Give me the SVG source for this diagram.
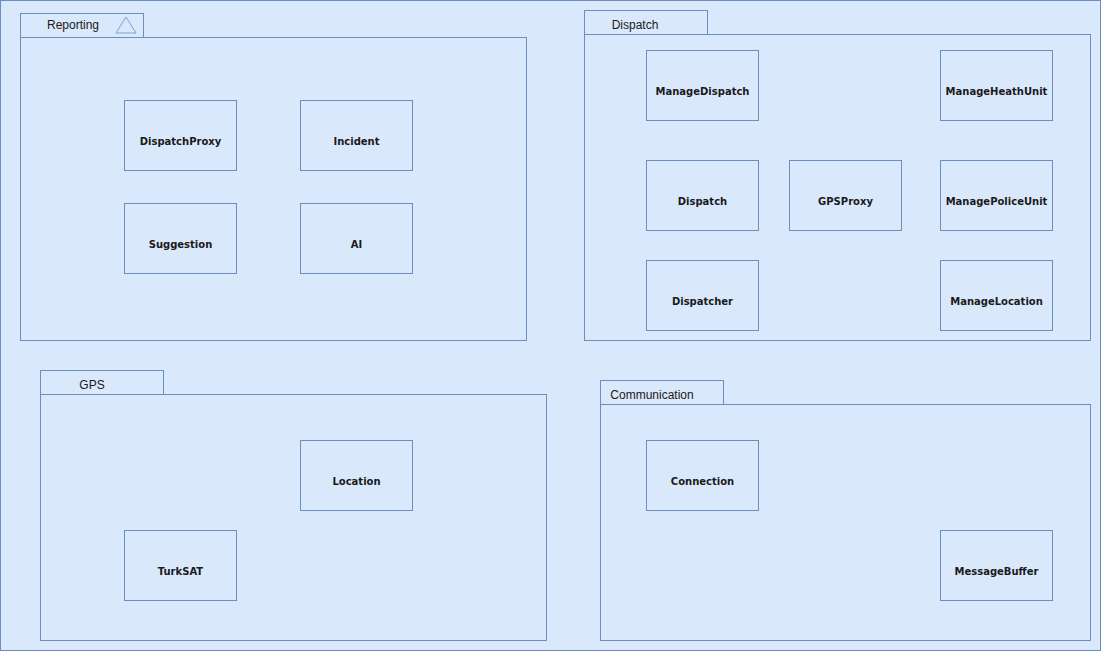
<svg xmlns="http://www.w3.org/2000/svg" width="1102" height="651" viewBox="0 0 1102 651">
<style>
.f{fill:#dae8fc;stroke:#6c8ebf;stroke-width:1}
.t{font-family:"Liberation Sans",Arial,sans-serif;font-size:12px;fill:#1a1a1a;text-anchor:middle}
.n{font-family:"DejaVu Sans",Verdana,sans-serif;font-size:10px;font-weight:bold;fill:#1a1a1a;text-anchor:middle}
</style>
<rect class="f" x="0.5" y="0.5" width="1100" height="650"/>
<g id="reporting">
<rect class="f" x="20.5" y="13.5" width="123" height="24"/>
<rect class="f" x="20.5" y="37.5" width="506" height="303"/>
<text class="t" x="73" y="29">Reporting</text>
<polygon points="116,33 126,17 136,33" fill="none" stroke="#7f9fd0" stroke-width="1"/>
</g>
<g id="dispatch-pkg">
<rect class="f" x="584.5" y="10.5" width="123" height="24"/>
<rect class="f" x="584.5" y="34.5" width="506" height="306"/>
<text class="t" x="635" y="29">Dispatch</text>
</g>
<g id="gps-pkg">
<rect class="f" x="40.5" y="370.5" width="123" height="24"/>
<rect class="f" x="40.5" y="394.5" width="506" height="246"/>
<text class="t" x="92" y="389">GPS</text>
</g>
<g id="communication-pkg">
<rect class="f" x="600.5" y="380.5" width="123" height="24"/>
<rect class="f" x="600.5" y="404.5" width="490" height="236"/>
<text class="t" x="652" y="399">Communication</text>
</g>
<g id="DispatchProxy"><rect class="f" x="124.5" y="100.5" width="112" height="70"/><text class="n" x="180.5" y="145">DispatchProxy</text></g>
<g id="Incident"><rect class="f" x="300.5" y="100.5" width="112" height="70"/><text class="n" x="356.5" y="145">Incident</text></g>
<g id="Suggestion"><rect class="f" x="124.5" y="203.5" width="112" height="70"/><text class="n" x="180.5" y="248">Suggestion</text></g>
<g id="AI"><rect class="f" x="300.5" y="203.5" width="112" height="70"/><text class="n" x="356.5" y="248">AI</text></g>
<g id="ManageDispatch"><rect class="f" x="646.5" y="50.5" width="112" height="70"/><text class="n" x="702.5" y="95">ManageDispatch</text></g>
<g id="ManageHeathUnit"><rect class="f" x="940.5" y="50.5" width="112" height="70"/><text class="n" x="996.5" y="95">ManageHeathUnit</text></g>
<g id="Dispatch"><rect class="f" x="646.5" y="160.5" width="112" height="70"/><text class="n" x="702.5" y="205">Dispatch</text></g>
<g id="GPSProxy"><rect class="f" x="789.5" y="160.5" width="112" height="70"/><text class="n" x="845.5" y="205">GPSProxy</text></g>
<g id="ManagePoliceUnit"><rect class="f" x="940.5" y="160.5" width="112" height="70"/><text class="n" x="996.5" y="205">ManagePoliceUnit</text></g>
<g id="Dispatcher"><rect class="f" x="646.5" y="260.5" width="112" height="70"/><text class="n" x="702.5" y="305">Dispatcher</text></g>
<g id="ManageLocation"><rect class="f" x="940.5" y="260.5" width="112" height="70"/><text class="n" x="996.5" y="305">ManageLocation</text></g>
<g id="Location"><rect class="f" x="300.5" y="440.5" width="112" height="70"/><text class="n" x="356.5" y="485">Location</text></g>
<g id="TurkSAT"><rect class="f" x="124.5" y="530.5" width="112" height="70"/><text class="n" x="180.5" y="575">TurkSAT</text></g>
<g id="Connection"><rect class="f" x="646.5" y="440.5" width="112" height="70"/><text class="n" x="702.5" y="485">Connection</text></g>
<g id="MessageBuffer"><rect class="f" x="940.5" y="530.5" width="112" height="70"/><text class="n" x="996.5" y="575">MessageBuffer</text></g>
<g id="connectors"/>
</svg>
